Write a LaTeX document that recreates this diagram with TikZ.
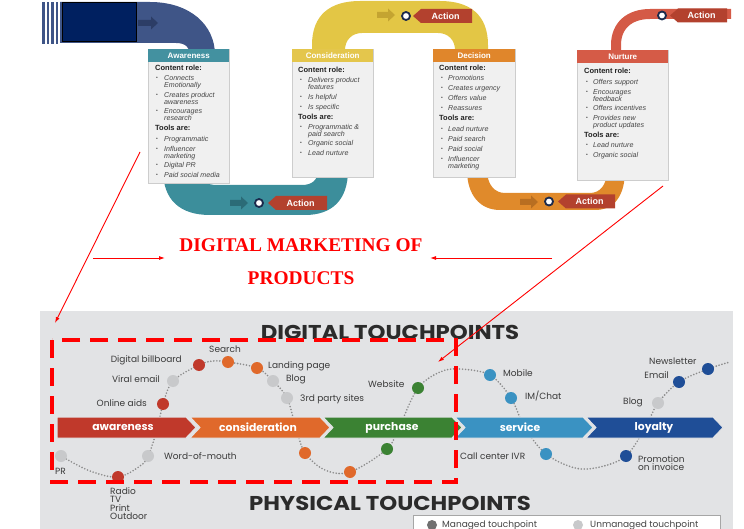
\documentclass[tikz,border=0pt]{standalone}
\usepackage{fontspec}
\setmainfont{Liberation Sans}
\newfontfamily\pop{Poppins}
\newfontfamily\serifb{Liberation Serif}
\usetikzlibrary{arrows.meta}
\definecolor{trB}{HTML}{3F5587}
\definecolor{trBa}{HTML}{2C3D66}
\definecolor{navyR}{HTML}{002060}
\definecolor{trT}{HTML}{3C8E9B}
\definecolor{trTa}{HTML}{2B6B77}
\definecolor{trY}{HTML}{E3C645}
\definecolor{trYa}{HTML}{C4A431}
\definecolor{trO}{HTML}{E08A2B}
\definecolor{trOa}{HTML}{B86E21}
\definecolor{trR}{HTML}{D45A46}
\definecolor{actc}{HTML}{B3412E}
\definecolor{ringc}{HTML}{1B2A4C}
\definecolor{hdA}{HTML}{4391A0}
\definecolor{hdC}{HTML}{E4C64C}
\definecolor{hdD}{HTML}{E0862B}
\definecolor{hdN}{HTML}{D55B47}
\definecolor{boxf}{HTML}{F0F0F0}
\definecolor{boxd}{HTML}{CDCDCD}
\definecolor{txd}{HTML}{222222}
\definecolor{txi}{HTML}{444444}
\definecolor{bgg}{HTML}{E2E3E5}
\definecolor{ttl}{HTML}{2B2B2B}
\definecolor{labc}{HTML}{3A3A3A}
\definecolor{dotc}{HTML}{8C8C8C}
\definecolor{cAw}{HTML}{C0392B}
\definecolor{cCo}{HTML}{E0692B}
\definecolor{cPu}{HTML}{3B8233}
\definecolor{cSe}{HTML}{3A92C2}
\definecolor{cLo}{HTML}{1F4E97}
\definecolor{cUn}{HTML}{C8C9CB}
\definecolor{legm}{HTML}{707070}
\newcommand\bxh[4]{\node[bxhead] (#1) at (#2,{#3+2.7}) {#4};}
\newcommand\bxb[5]{\node[bxbul] (#1d) at (#2,#4) {\textbullet}; \node[bxitem] (#1) at (#3,{#4+2.5}) {#5};}
\newcommand\bxc[4]{\node[bxitem] (#1) at (#2,{#3+2.5}) {#4};}
\newcommand\actmark[5]{%
  \fill[actc] (#3,#5) -- ({#3+8},{#5-7}) -- (#4,{#5-7}) -- (#4,{#5+7}) -- ({#3+8},{#5+7}) -- cycle;
  \node[acttext] (#1t) at ({(#3+#4)/2+3},#5) {Action};
  \node[ring] (#1c) at (#2,#5) {};}
\newcommand\trarrow[4]{%
  \fill[#1] (#2,{#4-3}) -- ({#3-7},{#4-3}) -- ({#3-7},{#4-6.5}) -- (#3,#4) -- ({#3-7},{#4+6.5}) -- ({#3-7},{#4+3}) -- (#2,{#4+3}) -- cycle;}
\begin{document}
\begin{tikzpicture}[x=1pt,y=-1pt,
  box/.style={draw=boxd, fill=boxf, line width=1.2pt, anchor=north west, inner sep=0pt},
  hdr/.style={anchor=north west, inner sep=0pt, minimum height=13pt, text=white, font=\bfseries\fontsize{8}{9}\selectfont},
  bxhead/.style={anchor=base west, inner sep=0pt, text=txd, font=\bfseries\fontsize{7.5}{8}\selectfont},
  bxitem/.style={anchor=base west, inner sep=0pt, text=txi, font=\itshape\fontsize{7.1}{7.5}\selectfont},
  bxbul/.style={anchor=west, inner sep=0pt, text=txi, font=\fontsize{5}{6}\selectfont},
  acttext/.style={inner sep=0pt, text=white, font=\bfseries\fontsize{9}{10}\selectfont},
  ring/.style={circle, draw=ringc, fill=white, line width=1.8pt, minimum size=8pt, inner sep=0pt},
  lab/.style={inner sep=0pt, text=labc, font=\pop\fontsize{9}{8.3}\selectfont},
  tp/.style={circle, minimum size=12pt, inner sep=0pt},
  chevtxt/.style={inner sep=0pt, text=white, font=\pop\bfseries\fontsize{10.8}{11}\selectfont},
  ttlstyle/.style={inner sep=0pt, text=ttl, font=\pop\bfseries\fontsize{20}{21}\selectfont},
  redln/.style={red, line width=0.9pt},
  redtxt/.style={inner sep=0pt, text=red, font=\serifb\bfseries\fontsize{19.4}{20}\selectfont}
]
\useasboundingbox (0,0) rectangle (744,529);
\clip (0,0) rectangle (744,529);

% ---------------- top: customer journey track ----------------
\foreach \sx in {42,46.5,51,55.5} \fill[trB] (\sx,2) rectangle ({\sx+2.8},44);
\fill[trB] (60,2) -- (150,2) .. controls (190,2) and (215,25) .. (215,55) -- (190,55) .. controls (190,48) and (186,43) .. (176,43) -- (60,43) -- cycle;
\node[draw=black, fill=navyR, line width=0.8pt, minimum width=74pt, minimum height=39pt, anchor=north west, inner sep=0pt] (navy) at (62,2) {};
\trarrow{trBa}{138}{158}{23}
\fill[trT] (163,170) .. controls (163,200) and (180,215) .. (210,215) -- (305,215) .. controls (332,215) and (348,200) .. (348,170) -- (318,170) .. controls (318,180) and (312,185) .. (302,185) -- (218,185) .. controls (205,185) and (196,180) .. (196,170) -- cycle;
\fill[trY] (312,55) -- (312,45) .. controls (312,15) and (330,1) .. (360,1) -- (440,1) .. controls (470,1) and (488,15) .. (488,45) -- (488,55) -- (455,55) -- (455,50) .. controls (455,40) and (448,33) .. (438,33) -- (362,33) .. controls (352,33) and (345,40) .. (345,50) -- (345,55) -- cycle;
\fill[trO] (467,170) .. controls (467,195) and (480,210) .. (500,210) -- (595,210) .. controls (615,210) and (625,195) .. (625,170) -- (607,170) .. controls (607,185) and (600,193) .. (590,193) -- (505,193) .. controls (495,193) and (487,185) .. (487,170) -- cycle;
\draw[trR, line width=10pt] (616,60) -- (616,45) .. controls (616,25) and (630,14) .. (650,14) -- (731,14);

% boxes
\node[box, minimum width=81pt, minimum height=134pt] (awbox) at (148,49) {};
\node[hdr, fill=hdA, minimum width=81pt] (awh) at (148,49) {Awareness};
\node[box, minimum width=81pt, minimum height=128pt] (cobox) at (292,49) {};
\node[hdr, fill=hdC, minimum width=81pt] (coh) at (292,49) {Consideration};
\node[box, minimum width=82pt, minimum height=128pt] (debox) at (433,49) {};
\node[hdr, fill=hdD, minimum width=82pt] (deh) at (433,49) {Decision};
\node[box, minimum width=91pt, minimum height=130pt] (nubox) at (577,50) {};
\node[hdr, fill=hdN, minimum width=91pt] (nuh) at (577,50) {Nurture};

% awareness text
\bxh{a1}{155}{68}{Content role:}
\bxb{a2}{156}{164}{78}{Connects}
\bxc{a3}{164}{84.7}{Emotionally}
\bxb{a4}{156}{164}{95}{Creates product}
\bxc{a5}{164}{101.7}{awareness}
\bxb{a6}{156}{164}{111}{Encourages}
\bxc{a7}{164}{117.7}{research}
\bxh{a8}{155}{128}{Tools are:}
\bxb{a9}{156}{164}{139}{Programmatic}
\bxb{a10}{156}{164}{149}{Influencer}
\bxc{a11}{164}{155.7}{marketing}
\bxb{a12}{156}{164}{165}{Digital PR}
\bxb{a13}{156}{164}{175}{Paid social media}
% consideration text
\bxh{c1}{298}{70}{Content role:}
\bxb{c2}{300}{308}{80}{Delivers product}
\bxc{c3}{308}{86.7}{features}
\bxb{c4}{300}{308}{97}{Is helpful}
\bxb{c5}{300}{308}{107}{Is specific}
\bxh{c6}{298}{117}{Tools are:}
\bxb{c7}{300}{308}{127}{Programmatic \&}
\bxc{c8}{308}{133.7}{paid search}
\bxb{c9}{300}{308}{143}{Organic social}
\bxb{c10}{300}{308}{153}{Lead nurture}
% decision text
\bxh{d1}{439}{68}{Content role:}
\bxb{d2}{441}{448}{78}{Promotions}
\bxb{d3}{441}{448}{88}{Creates urgency}
\bxb{d4}{441}{448}{98}{Offers value}
\bxb{d5}{441}{448}{108}{Reassures}
\bxh{d6}{439}{118}{Tools are:}
\bxb{d7}{441}{448}{129}{Lead nurture}
\bxb{d8}{441}{448}{139}{Paid search}
\bxb{d9}{441}{448}{149}{Paid social}
\bxb{d10}{441}{448}{159}{Influencer}
\bxc{d11}{448}{165.7}{marketing}
% nurture text
\bxh{n1}{584}{71}{Content role:}
\bxb{n2}{586}{593}{82}{Offers support}
\bxb{n3}{586}{593}{92}{Encourages}
\bxc{n4}{593}{98.7}{feedback}
\bxb{n5}{586}{593}{108}{Offers incentives}
\bxb{n6}{586}{593}{118}{Provides new}
\bxc{n7}{593}{124.7}{product updates}
\bxh{n8}{584}{135}{Tools are:}
\bxb{n9}{586}{593}{145}{Lead nurture}
\bxb{n10}{586}{593}{155}{Organic social}

% action markers
\trarrow{trTa}{230}{248}{203}
\actmark{act1}{259}{268}{327}{203}
\trarrow{trYa}{377}{395}{15}
\actmark{act2}{406}{413}{472}{16}
\trarrow{trOa}{520}{538}{202}
\actmark{act3}{549}{558}{615}{201.5}
\actmark{act4}{662}{670}{727}{15.5}

% ---------------- middle: title ----------------
\node[redtxt] (rt1) at (301,245) {DIGITAL MARKETING OF};
\node[redtxt] (rt2) at (301,278) {PRODUCTS};

% ---------------- bottom: touchpoints ----------------
\fill[bgg] (40,311) rectangle (733,529);
\node[ttlstyle] (dtitle) at (390,332) {\scalebox{1.14}[1]{DIGITAL TOUCHPOINTS}};
\node[ttlstyle] (ptitle) at (390,503) {\scalebox{1.14}[1]{PHYSICAL TOUCHPOINTS}};

\draw[dotc, line width=1.8pt, dash pattern=on 0pt off 3pt, line cap=round]
  plot[smooth, tension=0.55] coordinates {(61,456) (90,471) (118,477) (140,466) (148,456) (157,430) (163,404) (173,381) (199,365) (213,361) (228,362) (257,368) (273,381) (287,398) (296,428) (305,453) (325,470) (350,472) (387,449) (400,425) (418,388) (440,372) (460,369) (490,375) (511,398) (525,428) (546,454) (575,468) (600,467) (626,456) (645,428) (658,403) (679,382) (708,369) (730,362)};

% chevrons
\filldraw[fill=cAw, draw=bgg, line width=1pt] (57,417) -- (186,417) -- (196,427.5) -- (186,438) -- (57,438) -- cycle;
\filldraw[fill=cCo, draw=bgg, line width=1pt] (190,417) -- (320,417) -- (330,427.5) -- (320,438) -- (190,438) -- (200,427.5) -- cycle;
\filldraw[fill=cPu, draw=bgg, line width=1pt] (323,417) -- (452,417) -- (462,427.5) -- (452,438) -- (323,438) -- (333,427.5) -- cycle;
\filldraw[fill=cSe, draw=bgg, line width=1pt] (455,417) -- (583,417) -- (593,427.5) -- (583,438) -- (455,438) -- (465,427.5) -- cycle;
\filldraw[fill=cLo, draw=bgg, line width=1pt] (586,417) -- (713,417) -- (723,427.5) -- (713,438) -- (586,438) -- (596,427.5) -- cycle;
\node[chevtxt] (chaw) at (123,427.5) {awareness};
\node[chevtxt] (chco) at (258,427.5) {consideration};
\node[chevtxt] (chpu) at (392,427.5) {purchase};
\node[chevtxt] (chse) at (520,427.5) {service};
\node[chevtxt] (chlo) at (654,427.5) {loyalty};

% touchpoint dots
\node[tp, fill=cUn] (tpPR) at (61,456) {};
\node[tp, fill=cAw] (tpRadio) at (118,477) {};
\node[tp, fill=cUn] (tpWom) at (148,456) {};
\node[tp, fill=cAw] (tpOnline) at (163,404) {};
\node[tp, fill=cUn] (tpViral) at (173,381) {};
\node[tp, fill=cAw] (tpBill) at (199,365) {};
\node[tp, fill=cCo] (tpSearch) at (228,362) {};
\node[tp, fill=cCo] (tpLand) at (257,368) {};
\node[tp, fill=cUn] (tpBlog) at (273,381) {};
\node[tp, fill=cUn] (tpThird) at (287,398) {};
\node[tp, fill=cCo] (tpO1) at (305,453) {};
\node[tp, fill=cCo] (tpO2) at (350,472) {};
\node[tp, fill=cPu] (tpG1) at (387,449) {};
\node[tp, fill=cPu] (tpWeb) at (418,388) {};
\node[tp, fill=cSe] (tpMob) at (490,375) {};
\node[tp, fill=cSe] (tpIM) at (511,398) {};
\node[tp, fill=cSe] (tpCall) at (546,454) {};
\node[tp, fill=cLo] (tpPromo) at (626,456) {};
\node[tp, fill=cUn] (tpBlog2) at (658,403) {};
\node[tp, fill=cLo] (tpEmail) at (679,382) {};
\node[tp, fill=cLo] (tpNews) at (708,369) {};

% labels
\node[lab, anchor=west] (lPR) at (55,471) {PR};
\node[lab, anchor=north west, align=left] (lRadio) at (110,487.5) {Radio\\TV\\Print\\Outdoor};
\node[lab, anchor=west] (lWom) at (164,456) {Word-of-mouth};
\node[lab, anchor=east] (lOnline) at (147,403) {Online aids};
\node[lab, anchor=east] (lViral) at (160,379.5) {Viral email};
\node[lab, anchor=east] (lBill) at (182,360) {Digital billboard};
\node[lab] (lSearch) at (225,349) {Search};
\node[lab, anchor=west] (lLand) at (268,366) {Landing page};
\node[lab, anchor=west] (lBlog) at (286,379.5) {Blog};
\node[lab, anchor=west] (lThird) at (300,399) {3rd party sites};
\node[lab, anchor=west] (lWeb) at (368,384) {Website};
\node[lab, anchor=west] (lMob) at (503,373) {Mobile};
\node[lab, anchor=west] (lIM) at (525,396) {IM/Chat};
\node[lab, anchor=west] (lCall) at (460,456) {Call center IVR};
\node[lab, anchor=west, align=left] (lPromo) at (638,463) {Promotion\\on invoice};
\node[lab, anchor=east] (lBlog2) at (643,402) {Blog};
\node[lab, anchor=east] (lEmail) at (669,375) {Email};
\node[lab, anchor=west] (lNews) at (649,361) {Newsletter};

% dashed highlight
\draw[red, line width=4.5pt, dash pattern=on 18pt off 10pt] (52,340) rectangle (456,482);

% legend
\node[draw=gray!70, fill=white, line width=0.8pt, anchor=north west, minimum width=307pt, minimum height=20pt, inner sep=0pt] (legend) at (413,515) {};
\node[tp, minimum size=10pt, fill=legm] (lgM) at (432,525) {};
\node[lab, anchor=west, text=txi] (lgMt) at (442,525) {Managed touchpoint};
\node[tp, minimum size=10pt, fill=cUn] (lgU) at (578,525) {};
\node[lab, anchor=west, text=txi] (lgUt) at (590,525) {Unmanaged touchpoint};

% ---------------- red connectors ----------------
\coordinate (l1a) at (140,152); \coordinate (l1b) at (55,323);
\coordinate (l2a) at (663,186); \coordinate (l2b) at (438,362);
\coordinate (ar1a) at (93,258); \coordinate (ar1b) at (165,258);
\coordinate (ar2a) at (552,258); \coordinate (ar2b) at (430,258);
\draw[redln, -{Latex[length=6pt,width=4pt]}] (l1a) -- (l1b);
\draw[redln, -{Latex[length=6pt,width=4pt]}] (l2a) -- (l2b);
\draw[redln, -{Latex[length=6pt,width=4pt]}] (ar1a) -- (ar1b);
\draw[redln, -{Latex[length=6pt,width=4pt]}] (ar2a) -- (ar2b);
\end{tikzpicture}
\end{document}
